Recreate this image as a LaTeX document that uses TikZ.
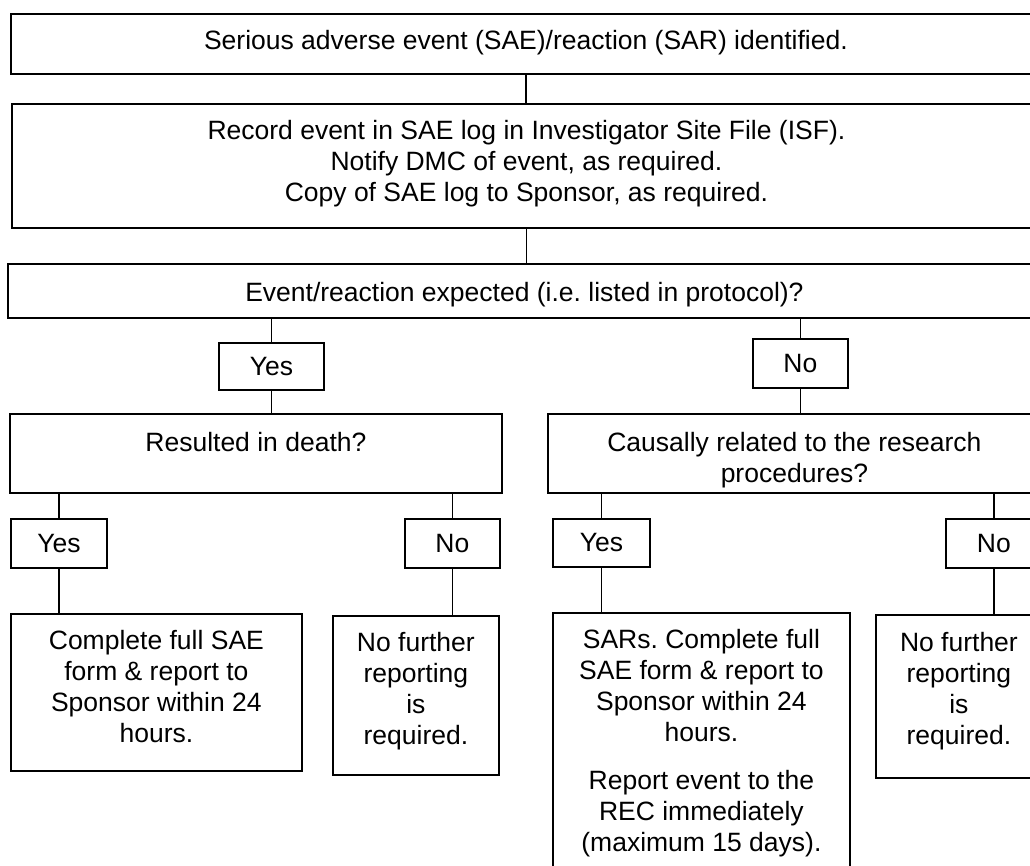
\documentclass[tikz,border=0pt]{standalone}
\usepackage{fontspec}
\setmainfont{Liberation Sans}
\frenchspacing
\begin{document}
\begin{tikzpicture}[x=1pt, y=-1pt, font=\fontsize{26.5}{31}\selectfont,
    box/.style={draw, line width=1.8pt, inner sep=0pt, anchor=north west},
    txt/.style={inner sep=0pt, align=center},
    link/.style={line width=1.8pt}]
    \useasboundingbox (0,0) rectangle (1030,866);
    \clip (0,0) rectangle (1030,866);
    % main column
    \node[box, minimum width=1030pt, minimum height=60pt] (sae) at (10,13) {};
    \node[txt, below=17pt] (saeT) at (sae.north) {Serious adverse event (SAE)/reaction (SAR) identified.};
    \node[box, minimum width=1029pt, minimum height=124pt] (rec) at (11,103) {};
    \node[txt, below=17pt] (recT) at (rec.north) {Record event in SAE log in Investigator Site File (ISF).\\Notify DMC of event, as required.\\Copy of SAE log to Sponsor, as required.};
    \node[box, minimum width=1033pt, minimum height=54pt] (evt) at (7,263) {};
    \node[txt, below=19pt] (evtT) at (evt.north) {Event/reaction expected (i.e. listed in protocol)?};
    % first answers
    \node[box, minimum width=105pt, minimum height=47pt] (yesA) at (218,342) {Yes};
    \node[box, minimum width=95pt, minimum height=49pt] (noA) at (752,338) {No};
    \node[box, minimum width=492pt, minimum height=79pt] (death) at (9,413) {};
    \node[txt, below=19pt] (deathT) at (death.north) {Resulted in death?};
    \node[box, minimum width=493pt, minimum height=79pt] (caus) at (547,413) {};
    \node[txt, below=19pt] (causT) at (caus.north) {Causally related to the research\\procedures?};
    % second answers
    \node[box, minimum width=96pt, minimum height=49pt] (yesB) at (10,518) {Yes};
    \node[box, minimum width=95pt, minimum height=49pt] (noB) at (404,518) {No};
    \node[box, minimum width=97pt, minimum height=48pt] (yesC) at (552,518) {Yes};
    \node[box, minimum width=96pt, minimum height=49pt] (noC) at (945,518) {No};
    % outcomes
    \node[box, minimum width=291pt, minimum height=157pt] (full) at (10,613) {};
    \node[txt, below=17pt] (fullT) at (full.north) {Complete full SAE\\form \& report to\\Sponsor within 24\\hours.};
    \node[box, minimum width=166pt, minimum height=159pt] (nofB) at (332,615) {};
    \node[txt, below=17pt] (nofBT) at (nofB.north) {No further\\reporting\\is\\required.};
    \node[box, minimum width=297pt, minimum height=280pt] (sar) at (552,612) {};
    \node[txt, below=17pt] (sarT) at (sar.north) {SARs. Complete full\\SAE form \& report to\\Sponsor within 24\\hours.\\[17pt]Report event to the\\REC immediately\\(maximum 15 days).};
    \node[box, minimum width=166pt, minimum height=163pt] (nofC) at (875,614) {};
    \node[txt, below=18pt] (nofCT) at (nofC.north) {No further\\reporting\\is\\required.};
    % connectors
    \draw[link] (sae.south) -- (sae.south |- rec.north);
    \draw[link] (rec.south) -- (rec.south |- evt.north);
    \draw[link] (yesA.north |- evt.south) -- (yesA.north);
    \draw[link] (noA.north |- evt.south) -- (noA.north);
    \draw[link] (yesA.south) -- (yesA.south |- death.north);
    \draw[link] (noA.south) -- (noA.south |- caus.north);
    \draw[link] (yesB.north |- death.south) -- (yesB.north);
    \draw[link] (noB.north |- death.south) -- (noB.north);
    \draw[link] (yesC.north |- caus.south) -- (yesC.north);
    \draw[link] (noC.north |- caus.south) -- (noC.north);
    \draw[link] (yesB.south) -- (yesB.south |- full.north);
    \draw[link] (noB.south) -- (noB.south |- nofB.north);
    \draw[link] (yesC.south) -- (yesC.south |- sar.north);
    \draw[link] (noC.south) -- (noC.south |- nofC.north);
\end{tikzpicture}
\end{document}
